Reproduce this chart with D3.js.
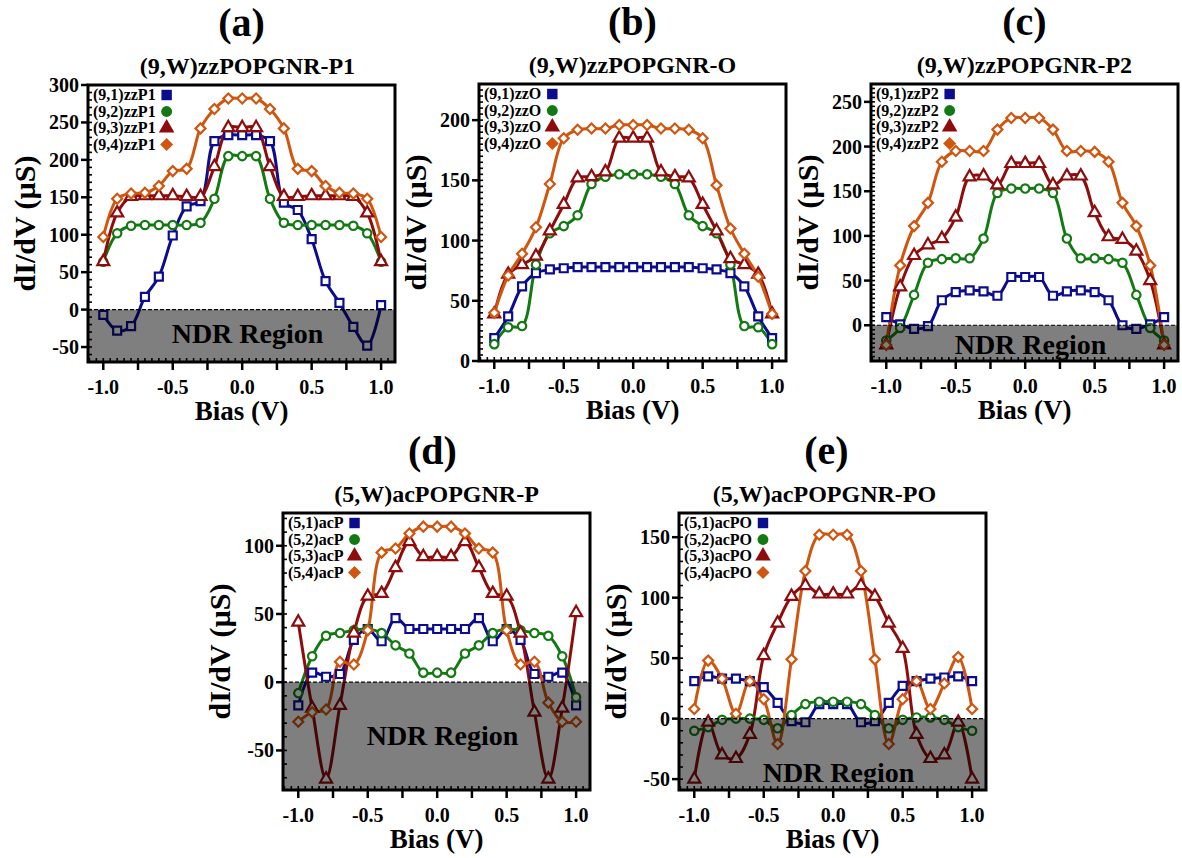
<!DOCTYPE html>
<html>
<head>
<meta charset="utf-8">
<script src="https://cdn.jsdelivr.net/npm/d3@7"></script>
<style>
  body { margin: 0; background: #fff; }
  text { font-family: "Liberation Serif", "Times New Roman", serif; font-weight: bold; }
</style>
</head>
<body>
<script>
// bias points (V)
var bias = [-1.0, -0.9, -0.8, -0.7, -0.6, -0.5, -0.4, -0.3, -0.2, -0.1, 0.0,
            0.1, 0.2, 0.3, 0.4, 0.5, 0.6, 0.7, 0.8, 0.9, 1.0];

// (a) (9,W)zzPOPGNR-P1
var zzP1_1 = [-7, -28, -22, 17, 44, 99, 138, 145, 225, 233, 233, 233, 225, 143, 133, 94, 38, 9, -23, -48, 6];
var zzP1_2 = [64, 102, 112, 113, 113, 113, 113, 116, 148, 205, 205, 205, 148, 116, 113, 113, 113, 113, 112, 102, 64];
var zzP1_3 = [64, 129, 151, 152, 152, 152, 151, 151, 191, 243, 243, 243, 191, 151, 151, 152, 152, 152, 151, 129, 64];
var zzP1_4 = [97, 148, 155, 156, 165, 185, 188, 242, 268, 282, 282, 282, 268, 242, 188, 185, 165, 156, 155, 148, 97];

// (b) (9,W)zzPOPGNR-O
var zzO_1 = [19, 37, 62, 73, 76, 77, 78, 78, 78, 78, 78, 78, 78, 78, 78, 77, 76, 73, 62, 37, 19];
var zzO_2 = [14, 28, 29, 80, 106, 112, 121, 147, 153, 155, 155, 155, 153, 147, 121, 112, 106, 80, 29, 28, 14];
var zzO_3 = [39, 72, 80, 87, 108, 130, 152, 153, 157, 185, 185, 185, 157, 153, 152, 130, 108, 85, 80, 72, 39];
var zzO_4 = [40, 71, 89, 111, 147, 185, 192, 193, 193, 196, 196, 196, 193, 193, 192, 185, 146, 110, 89, 70, 39];

// (c) (9,W)zzPOPGNR-P2
var zzP2_1 = [9, 1, -4, -1, 28, 37, 39, 38, 33, 54, 54, 54, 33, 38, 39, 37, 28, 0, -4, 1, 9];
var zzP2_2 = [-17, -3, 34, 70, 74, 75, 75, 97, 148, 153, 153, 153, 148, 97, 75, 75, 74, 70, 34, -3, -17];
var zzP2_3 = [-22, 43, 78, 90, 97, 121, 166, 167, 157, 181, 181, 181, 157, 167, 167, 126, 99, 96, 83, 50, -22];
var zzP2_4 = [-22, 67, 111, 137, 183, 195, 195, 195, 219, 232, 232, 232, 219, 195, 195, 194, 183, 137, 111, 67, -22];

// (d) (5,W)acPOPGNR-P
var acP_1 = [-17, 7, 4, 6, 31, 39, 30, 47, 39, 39, 39, 39, 39, 47, 30, 39, 31, 6, 4, 7, -17];
var acP_2 = [-8, 19, 34, 36, 38, 39, 36, 27, 21, 7, 7, 7, 21, 27, 36, 39, 38, 36, 34, 19, -11];
var acP_3 = [44, -19, -71, -17, 36, 63, 65, 84, 103, 92, 92, 92, 103, 84, 65, 63, 36, -22, -71, -19, 51];
var acP_4 = [-29, -22, -20, 15, 13, 38, 95, 98, 109, 114, 114, 114, 109, 98, 95, 38, 13, 15, -15, -29, -29];

// (e) (5,W)acPOPGNR-PO
var acPO_1 = [31, 35, 33, 33, 31, 26, 13, -2, -3, 12, 12, 12, -3, -2, 13, 27, 31, 33, 34, 35, 31];
var acPO_2 = [-10, -7, -1, 0, 0, -1, -8, 3, 12, 14, 14, 14, 12, 3, -8, -1, 1, 1, -1, -7, -10];
var acPO_3 = [-50, -3, -30, -33, -13, 52, 79, 101, 110, 103, 103, 103, 110, 101, 79, 58, -13, -33, -30, -3, -50];
var acPO_4 = [8, 48, 33, 4, 31, 16, -21, 49, 122, 152, 152, 152, 122, 49, -21, 16, 31, 8, 29, 51, 8];

var xTickLabels = [-1.0, -0.5, 0.0, 0.5, 1.0];

var colors = ["#0c0c8e", "#137a13", "#8e0c0c", "#d0560f"];
var shapes = ["square", "circle", "triangle", "diamond"];

var svgWidth = 1182;
var svgHeight = 858;
var plotW = 307, plotH = 277;

var panels = [
  { tag: "(a)", sub: "(9,W)zzPOPGNR-P1", left: 88, top: 85, yDom: [-70, 300], yTicks: [-50, 0, 50, 100, 150, 200, 250, 300], yMinor: 10,
    names: ["(9,1)zzP1", "(9,2)zzP1", "(9,3)zzP1", "(9,4)zzP1"], series: [zzP1_1, zzP1_2, zzP1_3, zzP1_4], ndrY: -32, subDx: 6, tagDx: 0 },
  { tag: "(b)", sub: "(9,W)zzPOPGNR-O", left: 479, top: 84, yDom: [0, 230], yTicks: [0, 50, 100, 150, 200], yMinor: 5,
    names: ["(9,1)zzO", "(9,2)zzO", "(9,3)zzO", "(9,4)zzO"], series: [zzO_1, zzO_2, zzO_3, zzO_4], ndrY: null, subDx: 0, tagDx: 0 },
  { tag: "(c)", sub: "(9,W)zzPOPGNR-P2", left: 871, top: 84, yDom: [-40, 270], yTicks: [0, 50, 100, 150, 200, 250], yMinor: 5,
    names: ["(9,1)zzP2", "(9,2)zzP2", "(9,3)zzP2", "(9,4)zzP2"], series: [zzP2_1, zzP2_2, zzP2_3, zzP2_4], ndrY: -21, subDx: 0, tagDx: 0 },
  { tag: "(d)", sub: "(5,W)acPOPGNR-P", left: 283, top: 513, yDom: [-79, 124], yTicks: [-50, 0, 50, 100], yMinor: 10,
    names: ["(5,1)acP", "(5,2)acP", "(5,3)acP", "(5,4)acP"], series: [acP_1, acP_2, acP_3, acP_4], ndrY: -39, subDx: 0, tagDx: -4 },
  { tag: "(e)", sub: "(5,W)acPOPGNR-PO", left: 679, top: 513, yDom: [-59, 170], yTicks: [-50, 0, 50, 100, 150], yMinor: 10,
    names: ["(5,1)acPO", "(5,2)acPO", "(5,3)acPO", "(5,4)acPO"], series: [acPO_1, acPO_2, acPO_3, acPO_4], ndrY: -44, subDx: -8, tagDx: -6 }
];

var svg = d3.select("body")
  .append("svg")
  .attr("width", svgWidth)
  .attr("height", svgHeight);

// marker path for a shape
function symbolPath(shape, big) {
  var s = big ? 1.7 : 1;
  if (shape === "square") return d3.symbol(d3.symbolSquare, 64 * s)();
  if (shape === "circle") return d3.symbol(d3.symbolCircle, 55 * s)();
  if (shape === "triangle") return d3.symbol(d3.symbolTriangle, 62 * s)();
  return d3.symbol(d3.symbolSquare, 50 * s)();
}
function symbolRot(shape) { return shape === "diamond" ? " rotate(45)" : ""; }

panels.forEach(function(p) {
  var xScale = d3.scaleLinear().domain([-1.11, 1.1]).range([p.left, p.left + plotW]);
  var yScale = d3.scaleLinear().domain(p.yDom).range([p.top + plotH, p.top]);
  var g = svg.append("g");
  var cx = p.left + plotW / 2;
  var bottom = p.top + plotH;

  // titles
  g.append("text").attr("x", cx + p.tagDx).attr("y", p.top - 49)
    .attr("text-anchor", "middle").style("font-size", "40px").text(p.tag);
  g.append("text").attr("x", cx + p.subDx).attr("y", p.top - 11)
    .attr("text-anchor", "middle").style("font-size", "24px").text(p.sub);

  // curves and markers
  var line = d3.line()
    .x(function(d, i) { return xScale(bias[i]); })
    .y(function(d) { return yScale(d); })
    .curve(d3.curveCatmullRom.alpha(0.5));

  p.series.forEach(function(vals, k) {
    g.append("path")
      .datum(vals)
      .attr("d", line)
      .attr("fill", "none")
      .attr("stroke", colors[k])
      .attr("stroke-width", 3);
  });
  p.series.forEach(function(vals, k) {
    g.selectAll(null)
      .data(vals)
      .enter()
      .append("path")
      .attr("d", symbolPath(shapes[k], false))
      .attr("transform", function(d, i) { return "translate(" + xScale(bias[i]) + "," + yScale(d) + ")" + symbolRot(shapes[k]); })
      .attr("fill", "#fff")
      .attr("stroke", colors[k])
      .attr("stroke-width", 2.2);
  });

  // NDR region
  if (p.ndrY !== null) {
    var y0 = yScale(0);
    g.append("rect")
      .attr("x", p.left).attr("y", y0)
      .attr("width", plotW).attr("height", bottom - y0)
      .attr("fill", "#000").attr("fill-opacity", 0.5);
    g.append("line")
      .attr("x1", p.left).attr("x2", p.left + plotW)
      .attr("y1", y0).attr("y2", y0)
      .attr("stroke", "#000").attr("stroke-width", 1.2)
      .attr("stroke-dasharray", "4,2");
    g.append("text")
      .attr("x", cx + 6).attr("y", yScale(p.ndrY))
      .attr("dy", "0.35em")
      .attr("text-anchor", "middle")
      .style("font-size", "28px")
      .text("NDR Region");
  }

  // legend
  var legTexts = p.names.map(function(n, k) {
    return g.append("text")
      .attr("x", p.left + 5)
      .attr("y", p.top + 15 + k * 16.5)
      .style("font-size", "16px")
      .text(n);
  });
  var maxLen = d3.max(legTexts, function(t) { return t.node().getComputedTextLength(); });
  p.names.forEach(function(n, k) {
    g.append("path")
      .attr("d", symbolPath(shapes[k], true))
      .attr("transform", "translate(" + (p.left + 5 + maxLen + 11) + "," + (p.top + 10 + k * 16.5) + ")" + symbolRot(shapes[k]))
      .attr("fill", colors[k]);
  });

  // y ticks
  var yMinorVals = d3.range(Math.ceil(p.yDom[0] / p.yMinor) * p.yMinor, p.yDom[1] + 0.01, p.yMinor);
  g.selectAll(null).data(yMinorVals).enter().append("line")
    .attr("x1", p.left).attr("x2", p.left + 4)
    .attr("y1", function(d) { return yScale(d); }).attr("y2", function(d) { return yScale(d); })
    .attr("stroke", "#000").attr("stroke-width", 1.6);
  g.selectAll(null).data(p.yTicks).enter().append("line")
    .attr("x1", p.left - 7).attr("x2", p.left)
    .attr("y1", function(d) { return yScale(d); }).attr("y2", function(d) { return yScale(d); })
    .attr("stroke", "#000").attr("stroke-width", 2.5);
  g.selectAll(null).data(p.yTicks).enter().append("text")
    .attr("x", p.left - 9)
    .attr("y", function(d) { return yScale(d); })
    .attr("dy", "0.35em")
    .attr("text-anchor", "end")
    .style("font-size", "20px")
    .text(function(d) { return String(d); });

  // x ticks
  var xMinorVals = d3.range(-22, 23).map(function(i) { return i * 0.05; });
  g.selectAll(null).data(xMinorVals).enter().append("line")
    .attr("x1", function(d) { return xScale(d); }).attr("x2", function(d) { return xScale(d); })
    .attr("y1", bottom).attr("y2", bottom - 4)
    .attr("stroke", "#000").attr("stroke-width", 1.6);
  var xMajorVals = d3.range(-4, 5).map(function(i) { return i * 0.25; });
  g.selectAll(null).data(xMajorVals).enter().append("line")
    .attr("x1", function(d) { return xScale(d); }).attr("x2", function(d) { return xScale(d); })
    .attr("y1", bottom).attr("y2", bottom + 8)
    .attr("stroke", "#000").attr("stroke-width", 2.5);
  g.selectAll(null).data(xTickLabels).enter().append("text")
    .attr("x", function(d) { return xScale(d); })
    .attr("y", bottom + 32)
    .attr("text-anchor", "middle")
    .style("font-size", "20px")
    .text(function(d) { return d.toFixed(1); });

  // frame
  g.append("rect")
    .attr("x", p.left).attr("y", p.top)
    .attr("width", plotW).attr("height", plotH)
    .attr("fill", "none").attr("stroke", "#000").attr("stroke-width", 3);

  // axis titles
  g.append("text")
    .attr("transform", "translate(" + (p.left - 53) + "," + (p.top + plotH / 2) + ") rotate(-90)")
    .attr("text-anchor", "middle")
    .style("font-size", "30px")
    .text("dI/dV (\u00b5S)");
  g.append("text")
    .attr("x", cx).attr("y", bottom + 58)
    .attr("text-anchor", "middle")
    .style("font-size", "27px")
    .text("Bias (V)");
});
</script>
</body>
</html>
